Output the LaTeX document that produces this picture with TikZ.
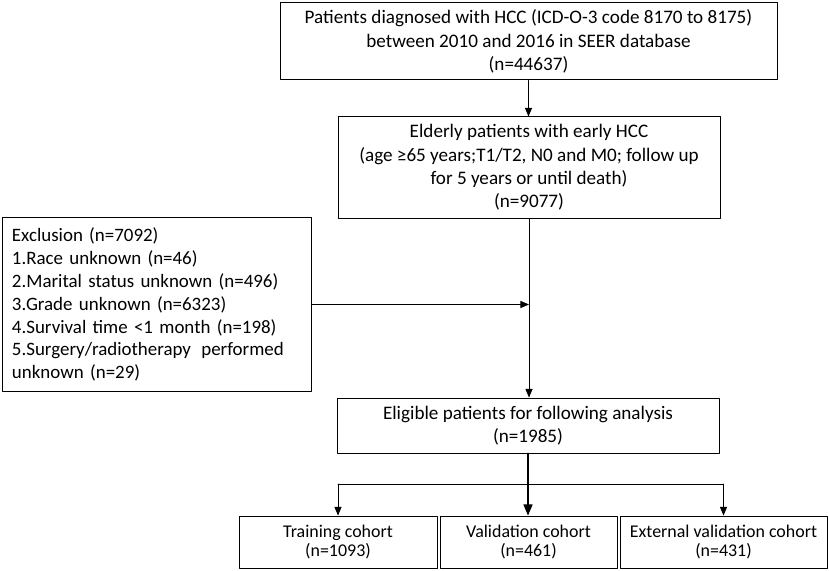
\documentclass[tikz,border=0pt]{standalone}
\usepackage{fontspec}
\setmainfont{Carlito}
\usepackage{tikz}
\usetikzlibrary{arrows,calc}

\begin{document}
\begin{tikzpicture}[line cap=round,line join=round,>=triangle 45,x=1bp,y=-1bp,
  box/.style={draw,line width=1bp,rectangle,inner sep=0pt,align=center,font=\fontsize{19.2}{23.5}\selectfont},
  smallbox/.style={box,minimum height=52bp,font=\fontsize{18}{20}\selectfont},
  conn/.style={line width=1bp}]
\useasboundingbox (0,0) rectangle (829,571);
\node[box,minimum width=497bp,minimum height=77bp] (seer) at (528.5,41.5)
  {Patients diagnosed with HCC (ICD-O-3 code 8170 to 8175)\\between 2010 and 2016 in SEER database\\(n=44637)};
\node[box,minimum width=382bp,minimum height=101bp] (elderly) at (529,167.5)
  {Elderly patients with early HCC\\(age \char"2265 65 years;T1/T2, N0 and M0; follow up\\for 5 years or until death)\\(n=9077)};
\node[box,align=left,text width=290bp,inner xsep=9bp,minimum height=173bp,font=\fontsize{19}{23}\selectfont] (excl) at (157,304.5)
  {Exclusion (n=7092)\\1.Race unknown (n=46)\\2.Marital status unknown (n=496)\\3.Grade unknown (n=6323)\\4.Survival time <1 month (n=198)\\5.Surgery/radiotherapy\hspace{4bp} performed\\unknown (n=29)};
\node[box,minimum width=382bp,minimum height=55bp] (elig) at (528,425.5)
  {Eligible patients for following analysis\\(n=1985)};
\node[smallbox,minimum width=198bp] (train) at (338,542) {Training cohort\\(n=1093)};
\node[smallbox,minimum width=177bp] (valid) at (528.5,542) {Validation cohort\\(n=461)};
\node[smallbox,minimum width=207bp] (ext) at (723.5,542) {External validation cohort\\(n=431)};
\coordinate (join) at (excl.east -| elderly.south);
\coordinate (split) at (528.5,484);
\draw [conn,->] (seer.south) -- (seer.south |- elderly.north);
\draw [conn,->] (elderly.south) -- (elderly.south |- elig.north);
\draw [conn,->] (excl.east) -- (join);
\draw [line width=1.6bp,->] (elig.south) -- (elig.south |- valid.north);
\draw [conn] (split -| train.north) -- (split -| ext.north);
\draw [conn,->] (split -| train.north) -- (train.north);
\draw [conn,->] (split -| ext.north) -- (ext.north);
\end{tikzpicture}
\end{document}
